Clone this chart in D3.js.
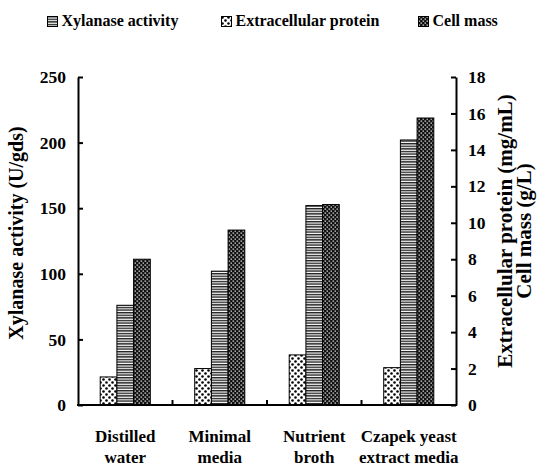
<!DOCTYPE html>
<html><head><meta charset="utf-8">
<script src="https://cdn.jsdelivr.net/npm/d3@7/dist/d3.min.js"></script>
<style>
body{margin:0;background:#fff;}
svg{display:block;}
</style></head><body>
<svg id="c" width="542" height="466"></svg>
<script>
const categories = [["Distilled","water"],["Minimal","media"],["Nutrient","broth"],["Czapek yeast","extract media"]];
const catKeys = ["Distilled water","Minimal media","Nutrient broth","Czapek yeast extract media"];
const xylanase = [76, 102, 152, 202];      // U/gds, left axis
const protein = [1.54, 2.0, 2.75, 2.05];   // mg/mL, right axis
const cellMass = [8.0, 9.6, 11.0, 15.75];  // g/L, right axis
const leftTicks = [0,50,100,150,200,250];
const rightTicks = [0,2,4,6,8,10,12,14,16,18];
const seriesOrder = ["protein","xylanase","cell"];
const legendItems = [["xylanase","Xylanase activity"],["protein","Extracellular protein"],["cell","Cell mass"]];

const FONT = "Liberation Serif";
const svg = d3.select("#c");
const L = 78, R = 456, T = 77, B = 405;
const txt = (sel, size) => sel.style("font-family", FONT).style("font-weight","bold").style("font-size", size+"px").attr("fill","#000");

const defs = svg.append("defs");
// horizontal stripes
const p1 = defs.append("pattern").attr("id","pat-xylanase").attr("patternUnits","userSpaceOnUse").attr("width",4).attr("height",2.6);
p1.append("rect").attr("width",4).attr("height",2.6).attr("fill","#fff");
p1.append("rect").attr("y",0).attr("width",4).attr("height",1.4).attr("fill","#222");
// dotted
const p2 = defs.append("pattern").attr("id","pat-protein").attr("patternUnits","userSpaceOnUse").attr("width",6).attr("height",6);
p2.append("rect").attr("width",6).attr("height",6).attr("fill","#fff");
p2.append("circle").attr("cx",1.5).attr("cy",1.5).attr("r",1.3).attr("fill","#000");
p2.append("circle").attr("cx",4.5).attr("cy",4.5).attr("r",1.3).attr("fill","#000");
// checkered
const p3 = defs.append("pattern").attr("id","pat-cell").attr("patternUnits","userSpaceOnUse").attr("width",4).attr("height",4);
p3.append("rect").attr("width",4).attr("height",4).attr("fill","#111");
p3.append("rect").attr("x",0.5).attr("y",0.5).attr("width",1.6).attr("height",1.2).attr("fill","#ddd");
p3.append("rect").attr("x",2.5).attr("y",2.5).attr("width",1.6).attr("height",1.2).attr("fill","#ddd");

const x = d3.scaleBand().domain(catKeys).range([L,R]).padding(0);
const groupW = x.bandwidth()*0.53;
const x1 = d3.scaleBand().domain(seriesOrder).range([0,groupW]);
const yL = d3.scaleLinear().domain([0,250]).range([B,T]);
const yR = d3.scaleLinear().domain([0,18]).range([B,T]);

const data = catKeys.map((k,i)=>({k, protein:protein[i], xylanase:xylanase[i], cell:cellMass[i]}));
const yFor = s => s==="xylanase" ? yL : yR;

const g = svg.append("g");
data.forEach(d=>{
  seriesOrder.forEach(s=>{
    const y = yFor(s);
    g.append("rect")
      .attr("x", x(d.k) + (x.bandwidth()-groupW)/2 + x1(s))
      .attr("y", y(d[s]))
      .attr("width", x1.bandwidth())
      .attr("height", B - y(d[s]))
      .attr("fill", `url(#pat-${s})`)
      .attr("stroke","#000").attr("stroke-width",1);
  });
});

// left axis
const ax1 = svg.append("g").attr("transform",`translate(${L},0)`)
  .call(d3.axisLeft(yL).tickValues(leftTicks).tickSizeInner(-5).tickSizeOuter(0).tickPadding(12));
// right axis
const ax2 = svg.append("g").attr("transform",`translate(${R},0)`)
  .call(d3.axisRight(yR).tickValues(rightTicks).tickSizeInner(-5).tickSizeOuter(0).tickPadding(12));
[ax1,ax2].forEach(a=>{
  a.attr("font-family", FONT);
  a.select(".domain").attr("stroke","#000").attr("stroke-width",2);
  a.selectAll(".tick line").attr("stroke","#000").attr("stroke-width",2);
  txt(a.selectAll(".tick text"), 17.5);
});
// bottom axis line
svg.append("line").attr("x1",L-1).attr("x2",R+1).attr("y1",B).attr("y2",B).attr("stroke","#000").attr("stroke-width",2);
// x boundary ticks
catKeys.slice(1).forEach(k=>{
  svg.append("line").attr("x1",x(k)).attr("x2",x(k)).attr("y1",B).attr("y2",B-5).attr("stroke","#000").attr("stroke-width",2);
});
// category labels
catKeys.forEach((k,i)=>{
  const t = txt(svg.append("text").attr("text-anchor","middle"), 17);
  categories[i].forEach((line,j)=>{
    t.append("tspan").attr("x", x(k)+x.bandwidth()/2).attr("y", 442 + j*21).text(line);
  });
});

// axis titles
txt(svg.append("text").attr("transform",`translate(23,233) rotate(-90)`).attr("text-anchor","middle"), 20)
  .text("Xylanase activity (U/gds)");
txt(svg.append("text").attr("transform",`translate(512,231) rotate(-90)`).attr("text-anchor","middle"), 21)
  .text("Extracellular protein (mg/mL)");
txt(svg.append("text").attr("transform",`translate(531,231) rotate(-90)`).attr("text-anchor","middle"), 21)
  .text("Cell mass (g/L)");

// legend
const legX = [47, 221, 418];
legendItems.forEach(([s,label],i)=>{
  const lg = svg.append("g").attr("transform",`translate(${legX[i]},16)`);
  lg.append("rect").attr("x",0.5).attr("y",0.5).attr("width",10).attr("height",10).attr("fill",`url(#pat-${s})`).attr("stroke","#000").attr("stroke-width",1);
  txt(lg.append("text").attr("x",14.5).attr("y",9.5), 16).text(label);
});
</script></body></html>
